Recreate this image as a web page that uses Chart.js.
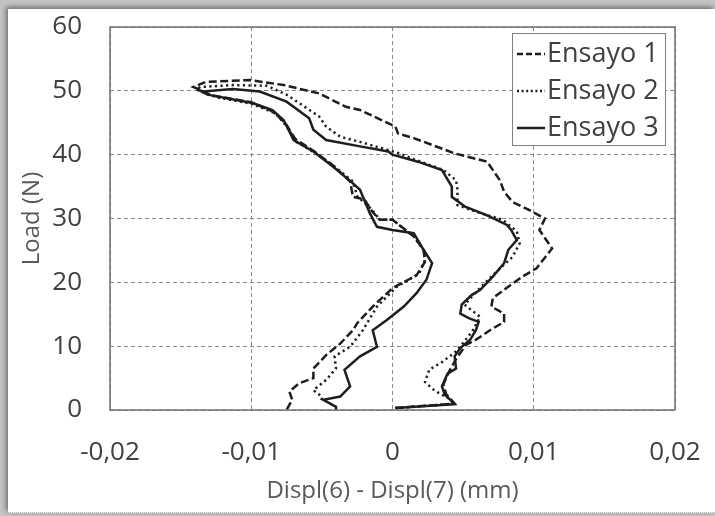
<!DOCTYPE html>
<html lang="es">
<head>
<meta charset="UTF-8">
<title>Load vs Displ(6) - Displ(7)</title>
<style>
    html, body { margin: 0; padding: 0; }
    body { width: 715px; height: 516px; position: relative; overflow: hidden; background: #c4c4c4; }
    .paper {
        position: absolute; left: 8px; top: 9px; right: 0; bottom: 3px;
        background: #fff;
        box-shadow: -2px -2px 5px rgba(0,0,0,0.45);
        border-bottom: 1px dotted #b0b0b0;
    }
    .chart-box { position: absolute; left: 0; top: 0; width: 715px; height: 516px; }
</style>
</head>
<body>
<div class="paper"></div>
<div class="chart-box"><canvas id="loadChart" width="715" height="516"></canvas></div>

<script src="https://cdn.jsdelivr.net/npm/chart.js"></script>
<script>
// ticks
const xTicks = [-0.02, -0.01, 0, 0.01, 0.02];
const xTickLabels = ['-0,02', '-0,01', '0', '0,01', '0,02'];
const yTicks = [0, 10, 20, 30, 40, 50, 60];
const seriesNames = ['Ensayo 1', 'Ensayo 2', 'Ensayo 3'];

// Ensayo 1 (dashed)
const e1Disp = [0.0002, 0.0044, 0.0038, 0.0036, 0.0040, 0.0045, 0.0052, 0.0059, 0.0069, 0.0079, 0.0079, 0.0070, 0.0071, 0.0080,
    0.0092, 0.0102, 0.0113, 0.0104, 0.0108, 0.0097, 0.0085, 0.0079, 0.0076, 0.0067, 0.0044, 0.0015, 0.0004, 0.0002, -0.0023,
    -0.0033, -0.0052, -0.0077, -0.0101, -0.0132, -0.0141, -0.0128, -0.0100, -0.0085, -0.0076, -0.0069, -0.0056, -0.0042,
    -0.0030, -0.0028, -0.0020, -0.0014, -0.0009, 0.0000, 0.0015, 0.0022, 0.0023, 0.0017, 0.0000, -0.0014, -0.0025, -0.0028,
    -0.0037, -0.0047, -0.0056, -0.0056, -0.0066, -0.0073, -0.0071, -0.0075];
const e1Load = [0.3, 1.0, 2.5, 4.0, 6.0, 8.0, 10.2, 11.0, 12.5, 13.8, 15.1, 16.2, 17.5, 19.0,
    20.9, 22.2, 25.3, 28.2, 30.0, 31.3, 32.6, 34.2, 36.0, 38.9, 40.2, 42.6, 43.3, 44.4, 47.0,
    47.5, 49.6, 50.9, 51.7, 51.4, 50.6, 49.3, 48.2, 46.8, 45.0, 42.5, 40.6, 38.3,
    35.8, 33.4, 33.0, 31.0, 29.8, 29.8, 27.2, 25.1, 23.2, 21.1, 19.1, 16.2, 13.6, 12.5,
    10.4, 8.6, 6.5, 5.0, 4.2, 2.9, 1.6, 0.0];

// Ensayo 2 (dotted)
const e2Disp = [0.0002, 0.0044, 0.0040, 0.0030, 0.0023, 0.0026, 0.0035, 0.0044, 0.0050, 0.0057, 0.0062, 0.0051, 0.0058, 0.0070,
    0.0085, 0.0090, 0.0088, 0.0078, 0.0060, 0.0046, 0.0046, 0.0045, 0.0036, 0.0015, 0.0005, -0.0023, -0.0037, -0.0047,
    -0.0052, -0.0075, -0.0089, -0.0113, -0.0136, -0.0139, -0.0125, -0.0100, -0.0083, -0.0075, -0.0068, -0.0055, -0.0042,
    -0.0028, -0.0025, -0.0015, -0.0009, 0.0000, 0.0015, 0.0022, 0.0023, 0.0019, 0.0003, -0.0011, -0.0021, -0.0030,
    -0.0041, -0.0040, -0.0047, -0.0056, -0.0050, -0.0050];
const e2Load = [0.3, 1.0, 1.8, 3.0, 4.4, 6.3, 7.5, 9.0, 10.5, 12.5, 14.6, 16.5, 18.2, 20.9,
    24.0, 26.1, 28.0, 29.8, 31.0, 32.1, 34.5, 36.0, 37.6, 39.3, 40.2, 42.0, 42.8, 44.4,
    46.0, 49.4, 50.8, 50.9, 50.6, 50.2, 49.0, 48.0, 46.5, 44.5, 42.0, 40.3, 38.3,
    35.8, 33.5, 31.5, 29.8, 29.8, 27.2, 25.1, 23.5, 21.4, 19.3, 16.2, 12.5, 9.9,
    8.4, 6.5, 4.7, 3.1, 2.1, 1.5];

// Ensayo 3 (solid)
const e3Disp = [0.0002, 0.0044, 0.0041, 0.0037, 0.0035, 0.0039, 0.0045, 0.0044, 0.0048, 0.0055, 0.0059, 0.0061, 0.0054, 0.0048,
    0.0049, 0.0056, 0.0062, 0.0071, 0.0079, 0.0082, 0.0088, 0.0084, 0.0081, 0.0067, 0.0051, 0.0042, 0.0042, 0.0035, 0.0018,
    0.0000, -0.0003, -0.0023, -0.0047, -0.0056, -0.0059, -0.0075, -0.0094, -0.0113, -0.0134, -0.0137, -0.0131, -0.0099,
    -0.0085, -0.0077, -0.0070, -0.0056, -0.0042, -0.0028, -0.0023, -0.0016, -0.0011, 0.0000, 0.0015, 0.0022, 0.0028,
    0.0024, 0.0017, 0.0008, -0.0004, -0.0014, -0.0011, -0.0023, -0.0034, -0.0030, -0.0037, -0.0049, -0.0040, -0.0040];
const e3Load = [0.3, 0.9, 1.6, 2.4, 3.7, 5.7, 6.5, 8.4, 9.7, 11.0, 12.5, 13.8, 14.4, 15.1,
    16.5, 18.0, 18.8, 20.9, 23.0, 25.1, 26.6, 28.2, 29.0, 30.5, 31.9, 33.4, 35.0, 37.6, 38.9,
    40.0, 40.5, 41.3, 42.3, 43.9, 45.7, 48.3, 49.9, 50.3, 49.9, 50.1, 49.4, 48.1,
    47.0, 45.4, 42.3, 40.5, 38.1, 35.5, 34.5, 30.8, 28.7, 28.2, 27.7, 25.1, 23.0,
    20.4, 18.3, 16.2, 14.1, 12.5, 9.9, 8.4, 6.3, 3.7, 2.1, 1.6, 0.5, 0.0];

const lineColor = '#1e1e1e';
const lineDashes = [[8, 3.5], [2.2, 3.4], []];
const legendDashes = [[6, 3], [2, 2.6], []];

function toPoints(xs, ys) {
    return xs.map((x, i) => ({ x: x, y: ys[i] }));
}

const datasets = [
    toPoints(e1Disp, e1Load),
    toPoints(e2Disp, e2Load),
    toPoints(e3Disp, e3Load)
].map((pts, i) => ({
    label: seriesNames[i],
    data: pts,
    showLine: true,
    borderColor: lineColor,
    borderWidth: 2.5,
    borderDash: lineDashes[i],
    pointRadius: 0,
    tension: 0,
    fill: false
}));

// box round the plot area
const plotFrame = {
    id: 'plotFrame',
    afterDraw(chart) {
        const { ctx, chartArea: a } = chart;
        ctx.save();
        ctx.strokeStyle = '#707070';
        ctx.lineWidth = 1.5;
        ctx.strokeRect(a.left, a.top, a.right - a.left, a.bottom - a.top);
        ctx.restore();
    }
};

// legend inside the top right corner
const insideLegend = {
    id: 'insideLegend',
    afterDraw(chart) {
        const { ctx, chartArea: a } = chart;
        const w = 153, h = 112;
        const left = a.right - 10 - w;
        const top = a.top + 6;
        ctx.save();
        ctx.fillStyle = '#fff';
        ctx.fillRect(left, top, w, h);
        ctx.strokeStyle = '#7f7f7f';
        ctx.lineWidth = 1;
        ctx.strokeRect(left + 0.5, top + 0.5, w, h);
        ctx.font = '27px "Open Sans"';
        ctx.textBaseline = 'middle';
        ctx.fillStyle = '#404040';
        chart.data.datasets.forEach((ds, i) => {
            const cy = top + 21 + i * 37;
            ctx.strokeStyle = lineColor;
            ctx.lineWidth = 2.5;
            ctx.setLineDash(legendDashes[i]);
            ctx.beginPath();
            ctx.moveTo(left + 5, cy);
            ctx.lineTo(left + 33, cy);
            ctx.stroke();
            ctx.setLineDash([]);
            ctx.fillText(ds.label, left + 35, cy);
        });
        ctx.restore();
    }
};

const tickFont = { family: 'Open Sans', size: 26 };
const titleFont = { family: 'Open Sans', size: 24 };

new Chart(document.getElementById('loadChart'), {
    type: 'scatter',
    data: { datasets: datasets },
    options: {
        responsive: false,
        animation: false,
        layout: { padding: { left: 0, top: 27, right: 40, bottom: 0 } },
        plugins: {
            legend: { display: false },
            tooltip: { enabled: false }
        },
        scales: {
            x: {
                type: 'linear',
                min: -0.02,
                max: 0.02,
                afterBuildTicks: s => { s.ticks = xTicks.map(v => ({ value: v })); },
                afterFit: s => { s.height = 106; s.paddingLeft = 0; s.paddingRight = 0; },
                ticks: {
                    font: tickFont,
                    color: '#404040',
                    padding: 27,
                    maxRotation: 0,
                    callback: (v, i) => xTickLabels[i]
                },
                grid: { color: '#8a8a8a', lineWidth: 1, drawTicks: false },
                border: { display: false, dash: [4, 3] },
                title: {
                    display: true,
                    text: 'Displ(6) - Displ(7) (mm)',
                    font: titleFont,
                    color: '#595959',
                    padding: { top: 0, bottom: 10 }
                }
            },
            y: {
                type: 'linear',
                min: 0,
                max: 60,
                afterBuildTicks: s => { s.ticks = yTicks.map(v => ({ value: v })); },
                afterFit: s => { s.width = 110; s.paddingTop = 0; s.paddingBottom = 0; },
                ticks: {
                    font: tickFont,
                    color: '#404040',
                    padding: 28
                },
                grid: { color: '#8a8a8a', lineWidth: 1, drawTicks: false },
                border: { display: false, dash: [4, 3] },
                title: {
                    display: true,
                    text: 'Load (N)',
                    font: titleFont,
                    color: '#595959',
                    padding: { top: 18, bottom: 0 }
                }
            }
        }
    },
    plugins: [plotFrame, insideLegend]
});
</script>
</body>
</html>
